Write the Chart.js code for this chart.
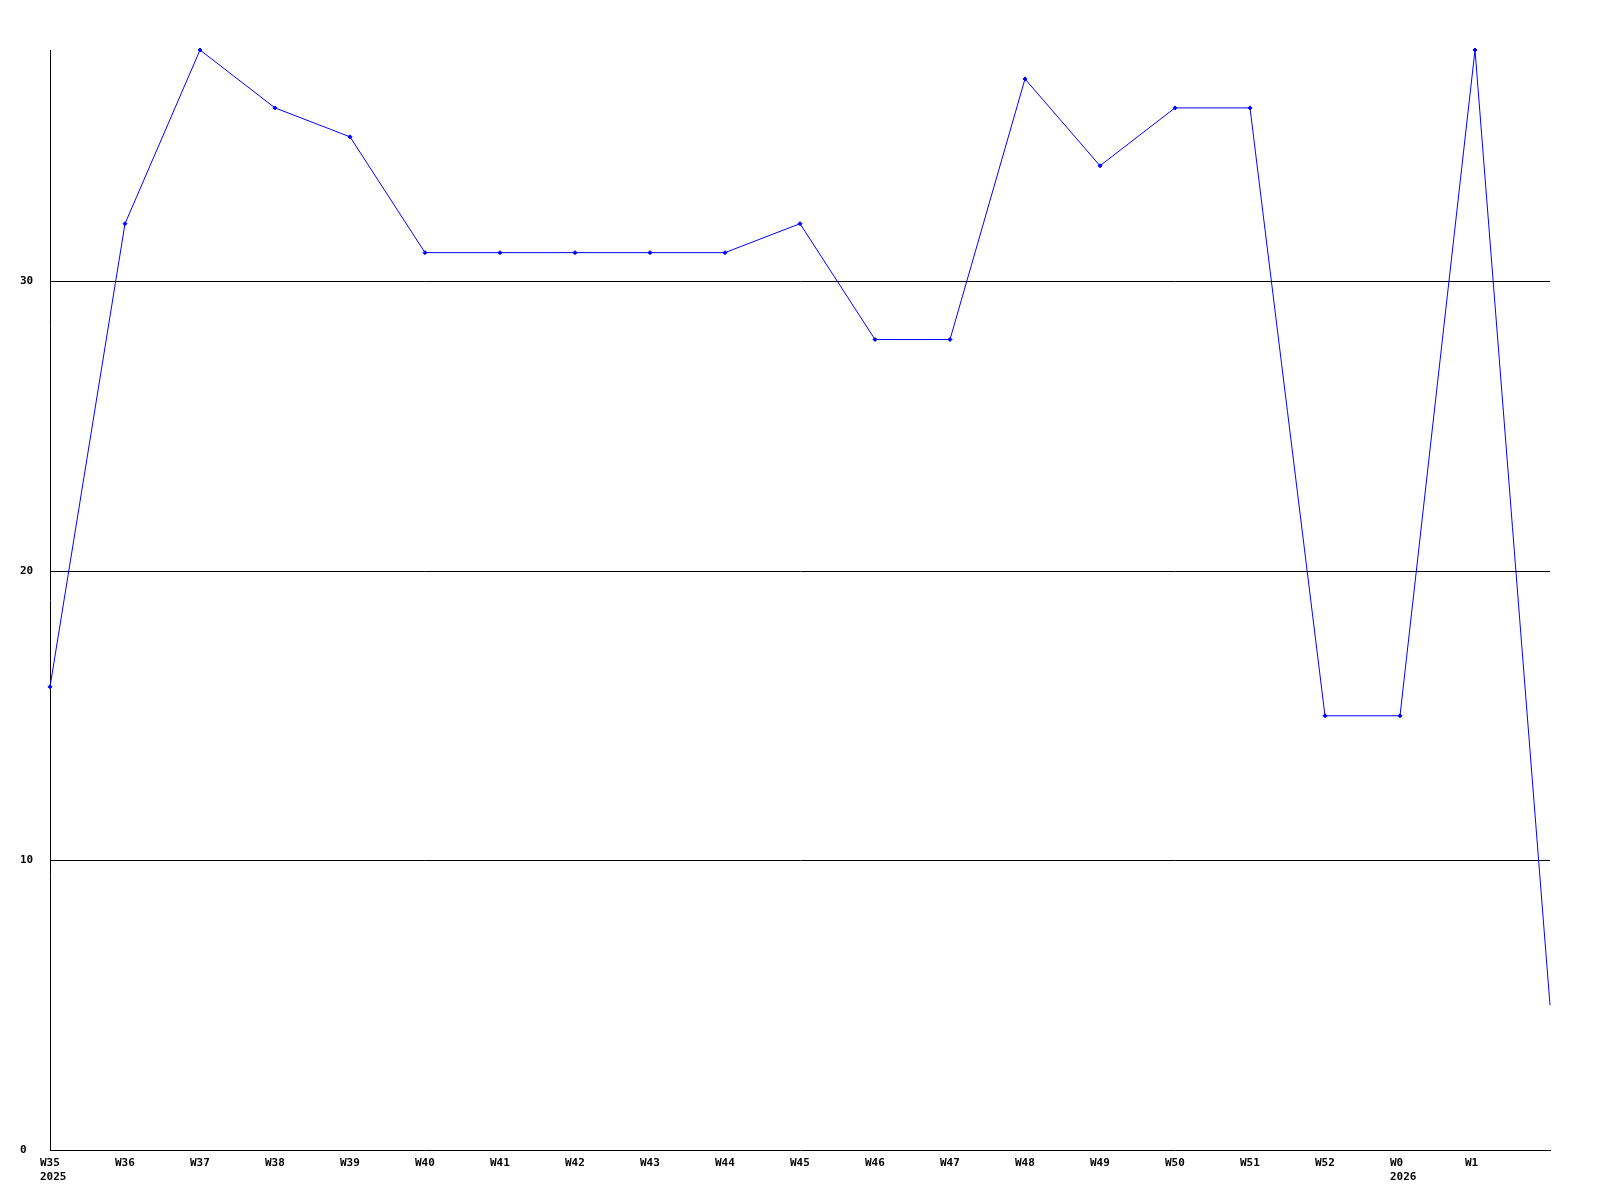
<!DOCTYPE html>
<html>
<head>
<meta charset="utf-8">
<script src="https://cdn.jsdelivr.net/npm/chart.js@4"></script>
<style>
  html, body { margin: 0; padding: 0; background: #fff; }
  #wrap { width: 1600px; height: 1200px; }
</style>
</head>
<body>
<div id="wrap"><canvas id="semanas"></canvas></div>
<script>
  const semanas = [['W35', '2025'], 'W36', 'W37', 'W38', 'W39', 'W40', 'W41', 'W42', 'W43', 'W44', 'W45',
    'W46', 'W47', 'W48', 'W49', 'W50', 'W51', 'W52', ['W0', '2026'], 'W1', ''];
  const valores = [16, 32, 38, 36, 35, 31, 31, 31, 31, 31, 32, 28, 28, 37, 34, 36, 36, 15, 15, 38, 5];
  const marcasY = [0, 10, 20, 30];

  const fonte = { family: 'DejaVu Sans Mono', size: 11, weight: 'bold' };

  const grafico = document.getElementById('semanas');

  new Chart(grafico, {
    type: 'line',
    data: {
      labels: semanas,
      datasets: [{
        data: valores,
        borderColor: '#0000ff',
        backgroundColor: '#0000ff',
        borderWidth: 1,
        pointStyle: 'rectRot',
        // ultimo ponto (semana corrente) sem marcador
        pointRadius: valores.map((v, i) => (i === valores.length - 1 ? 0 : 2)),
        pointBorderWidth: 1,
        tension: 0,
        clip: false
      }]
    },
    options: {
      responsive: true,
      maintainAspectRatio: false,
      animation: false,
      layout: { padding: { left: 20, right: 50, top: 50, bottom: 0 } },
      plugins: {
        legend: { display: false },
        tooltip: { enabled: false }
      },
      scales: {
        x: {
          offset: false,
          grid: { display: false },
          border: { color: '#000', width: 1 },
          ticks: {
            color: '#000',
            font: fonte,
            align: 'start',
            labelOffset: -10,
            padding: -1,
            maxRotation: 0,
            autoSkip: false
          },
          afterFit: s => { s.height = 50; }
        },
        y: {
          min: 0,
          max: 38,
          grid: {
            color: ctx => (ctx.tick && ctx.tick.value === 0 ? 'rgba(0,0,0,0)' : '#000'),
            lineWidth: 1,
            drawTicks: false
          },
          border: { color: '#000', width: 1 },
          ticks: {
            color: '#000',
            font: fonte,
            stepSize: 10,
            crossAlign: 'far',
            padding: 0
          },
          afterBuildTicks: s => {
            s.ticks = marcasY.map(v => ({ value: v }));
          },
          afterFit: s => { s.width = 30; }
        }
      }
    }
  });
</script>
</body>
</html>
